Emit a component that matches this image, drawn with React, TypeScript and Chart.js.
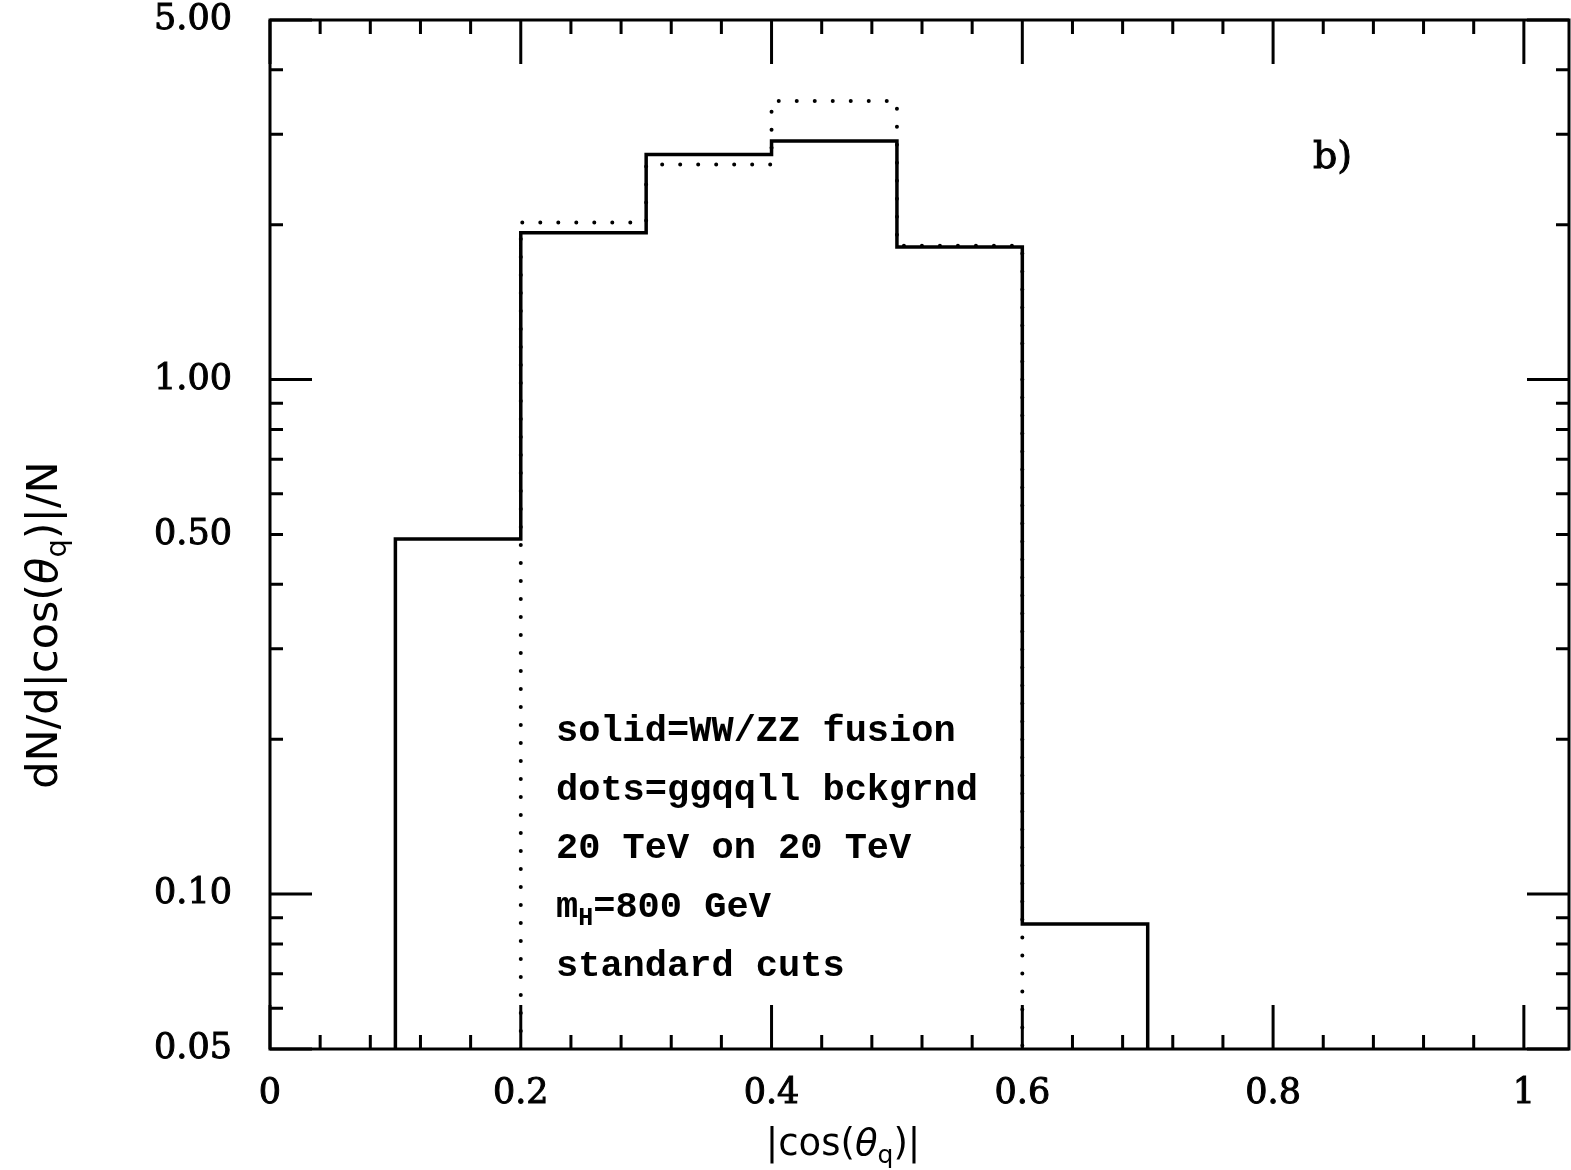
import React, { useEffect, useRef } from 'react';
import { Chart, registerables } from 'chart.js';

Chart.register(...registerables);

// ---- axis ranges ----
const Y_MIN = 0.05;
const Y_MAX = 5;
const X_MIN = 0;
const X_MAX = 1.036;

// ---- histogram data ----
const solidEdges = [0.1, 0.2, 0.3, 0.4, 0.5, 0.6, 0.7];
const solidValues = [0.49, 1.93, 2.74, 2.91, 1.81, 0.0875];
const dotsEdges = [0.2, 0.3, 0.4, 0.5, 0.6];
const dotsValues = [2.02, 2.62, 3.48, 1.82];

// ---- ticks ----
const xLabelTicks = [0, 0.2, 0.4, 0.6, 0.8, 1];
const xTickLabels = ['0', '0.2', '0.4', '0.6', '0.8', '1'];
const xMinorTicks = [0.04, 0.08, 0.12, 0.16, 0.24, 0.28, 0.32, 0.36, 0.44, 0.48, 0.52, 0.56, 0.64, 0.68, 0.72, 0.76, 0.84, 0.88, 0.92, 0.96];
const yLabelTicks = [0.05, 0.1, 0.5, 1, 5];
const yTickLabels = ['0.05', '0.10', '0.50', '1.00', '5.00'];
const yLongTicks = [0.05, 0.1, 1, 5];
const yMinorTicks = [0.06, 0.07, 0.08, 0.09, 0.2, 0.3, 0.4, 0.6, 0.7, 0.8, 0.9, 2, 3, 4];

// ---- texts ----
type Part = [string, boolean?, string?];
const annotationLines: Part[][] = [
  [['solid=WW/ZZ fusion']],
  [['dots=ggqqll bckgrnd']],
  [['20 TeV on 20 TeV']],
  [['m'], ['H', true], ['=800 GeV']],
  [['standard cuts']],
];
const xTitle: Part[] = [['|cos('], ['θ', false, 'italic'], ['q', true], [')|']];
const yTitle: Part[] = [['dN/d|cos('], ['θ', false, 'italic'], ['q', true], [')|/N']];
const panelLabel = 'b)';

function buildSteps(edges: number[], values: number[]) {
  const pts = [{ x: edges[0], y: Y_MIN }];
  values.forEach((v, i) => pts.push({ x: edges[i + 1], y: v }));
  pts.push({ x: edges[edges.length - 1], y: Y_MIN });
  return pts;
}

function drawRich(ctx: CanvasRenderingContext2D, parts: Part[], x: number, y: number, size: number, family: string, weight: string) {
  let cx = x;
  for (const [t, sub, style] of parts) {
    const s = sub ? Math.round(size * 0.68) : size;
    ctx.font = `${style || 'normal'} ${weight} ${s}px ${family}`;
    ctx.fillText(t, cx, sub ? y + size * 0.22 : y);
    cx += ctx.measureText(t).width;
  }
  return cx - x;
}

function measureRich(ctx: CanvasRenderingContext2D, parts: Part[], size: number, family: string, weight: string) {
  let w = 0;
  for (const [t, sub, style] of parts) {
    const s = sub ? Math.round(size * 0.68) : size;
    ctx.font = `${style || 'normal'} ${weight} ${s}px ${family}`;
    w += ctx.measureText(t).width;
  }
  return w;
}

const framePlugin = {
  id: 'frameTicks',
  afterDatasetsDraw(chart: any) {
    const { ctx, chartArea: a, scales } = chart;
    ctx.save();
    ctx.strokeStyle = '#000';
    ctx.fillStyle = '#000';
    ctx.lineWidth = 3;
    ctx.lineCap = 'butt';
    ctx.strokeRect(a.left, a.top, a.right - a.left, a.bottom - a.top);
    ctx.beginPath();
    for (const t of scales.x.ticks) {
      const px = scales.x.getPixelForValue(t.value);
      const len = xLabelTicks.includes(t.value) ? 44 : 14;
      ctx.moveTo(px, a.bottom);
      ctx.lineTo(px, a.bottom - len);
      ctx.moveTo(px, a.top);
      ctx.lineTo(px, a.top + len);
    }
    for (const t of scales.y.ticks) {
      const py = scales.y.getPixelForValue(t.value);
      const len = yLongTicks.includes(t.value) ? 42 : 13;
      ctx.moveTo(a.left, py);
      ctx.lineTo(a.left + len, py);
      ctx.moveTo(a.right, py);
      ctx.lineTo(a.right - len, py);
    }
    ctx.stroke();

    // annotation block
    ctx.textBaseline = 'alphabetic';
    ctx.textAlign = 'left';
    const mono = '"Liberation Mono", monospace';
    annotationLines.forEach((line, i) => {
      drawRich(ctx, line, 556, 741 + i * 58.7, 37, mono, 'bold');
    });

    // panel label
    ctx.font = `normal 38px "DejaVu Serif", serif`;
    ctx.lineWidth = 1;
    ctx.fillText(panelLabel, 1313, 168);
    ctx.strokeText(panelLabel, 1313, 168);

    // x title
    const sans = '"DejaVu Sans", sans-serif';
    const xw = measureRich(ctx, xTitle, 37, sans, 'normal');
    drawRich(ctx, xTitle, 843 - xw / 2, 1155, 37, sans, 'normal');

    // y title (rotated)
    const yw = measureRich(ctx, yTitle, 43, sans, 'normal');
    ctx.save();
    ctx.translate(57, 625);
    ctx.rotate(-Math.PI / 2);
    drawRich(ctx, yTitle, -yw / 2, 0, 43, sans, 'normal');
    ctx.restore();

    ctx.restore();
  },
};

export default function App() {
  const ref = useRef<HTMLCanvasElement | null>(null);
  useEffect(() => {
    let chart: Chart | null = null;
    let cancelled = false;
    const fonts = ['35px "DejaVu Serif"', '38px "DejaVu Serif"', 'bold 37px "Liberation Mono"', '37px "DejaVu Sans"', 'italic 37px "DejaVu Sans"'];
    Promise.all(fonts.map((f) => document.fonts.load(f).catch(() => null))).then(() => {
      if (cancelled || !ref.current) return;
      chart = new Chart(ref.current, {
        type: 'line',
        data: {
          datasets: [
            {
              label: 'dots',
              data: buildSteps(dotsEdges, dotsValues),
              borderColor: '#000',
              borderWidth: 4,
              borderDash: [0, 18],
              borderCapStyle: 'round',
              stepped: 'after',
              pointRadius: 0,
              fill: false,
            },
            {
              label: 'solid',
              data: buildSteps(solidEdges, solidValues),
              borderColor: '#000',
              borderWidth: 3.5,
              stepped: 'after',
              pointRadius: 0,
              fill: false,
            },
          ],
        } as any,
        options: {
          animation: false,
          responsive: false,
          devicePixelRatio: 1,
          parsing: false,
          layout: { padding: { top: 20, right: 2, left: 0, bottom: 0 } },
          plugins: { legend: { display: false }, tooltip: { enabled: false }, title: { display: false } },
          scales: {
            x: {
              type: 'linear',
              min: X_MIN,
              max: X_MAX,
              grid: { display: false, drawTicks: false },
              border: { display: false },
              afterBuildTicks: (s: any) => {
                s.ticks = [...xLabelTicks, ...xMinorTicks].sort((p, q) => p - q).map((v) => ({ value: v }));
              },
              afterFit: (s: any) => {
                s.height = 121;
                s.paddingLeft = 0;
                s.paddingRight = 0;
                s.paddingTop = 0;
                s.paddingBottom = 0;
              },
              ticks: {
                autoSkip: false,
                maxRotation: 0,
                minRotation: 0,
                padding: 24,
                color: '#000',
                textStrokeColor: '#000',
                textStrokeWidth: 1,
                font: { family: '"DejaVu Serif", serif', size: 35 },
                callback: (v: any) => {
                  const i = xLabelTicks.indexOf(v);
                  return i >= 0 ? xTickLabels[i] : '';
                },
              },
            },
            y: {
              type: 'logarithmic',
              min: Y_MIN,
              max: Y_MAX,
              grid: { display: false, drawTicks: false },
              border: { display: false },
              afterBuildTicks: (s: any) => {
                s.ticks = [...yLabelTicks, ...yMinorTicks].sort((p, q) => p - q).map((v) => ({ value: v }));
              },
              afterFit: (s: any) => {
                s.width = 270;
                s.paddingLeft = 0;
                s.paddingRight = 0;
                s.paddingTop = 0;
                s.paddingBottom = 0;
              },
              ticks: {
                autoSkip: false,
                padding: 38,
                color: '#000',
                textStrokeColor: '#000',
                textStrokeWidth: 1,
                font: { family: '"DejaVu Serif", serif', size: 35 },
                callback: (v: any) => {
                  const i = yLabelTicks.indexOf(v);
                  return i >= 0 ? yTickLabels[i] : '';
                },
              },
            },
          },
        } as any,
        plugins: [framePlugin],
      });
    });
    return () => {
      cancelled = true;
      if (chart) chart.destroy();
    };
  }, []);

  return (
    <div style={{ position: 'fixed', left: 0, top: 0, width: 1571, height: 1170, background: '#fff' }}>
      <canvas ref={ref} width={1571} height={1170} style={{ display: 'block' }} />
    </div>
  );
}
